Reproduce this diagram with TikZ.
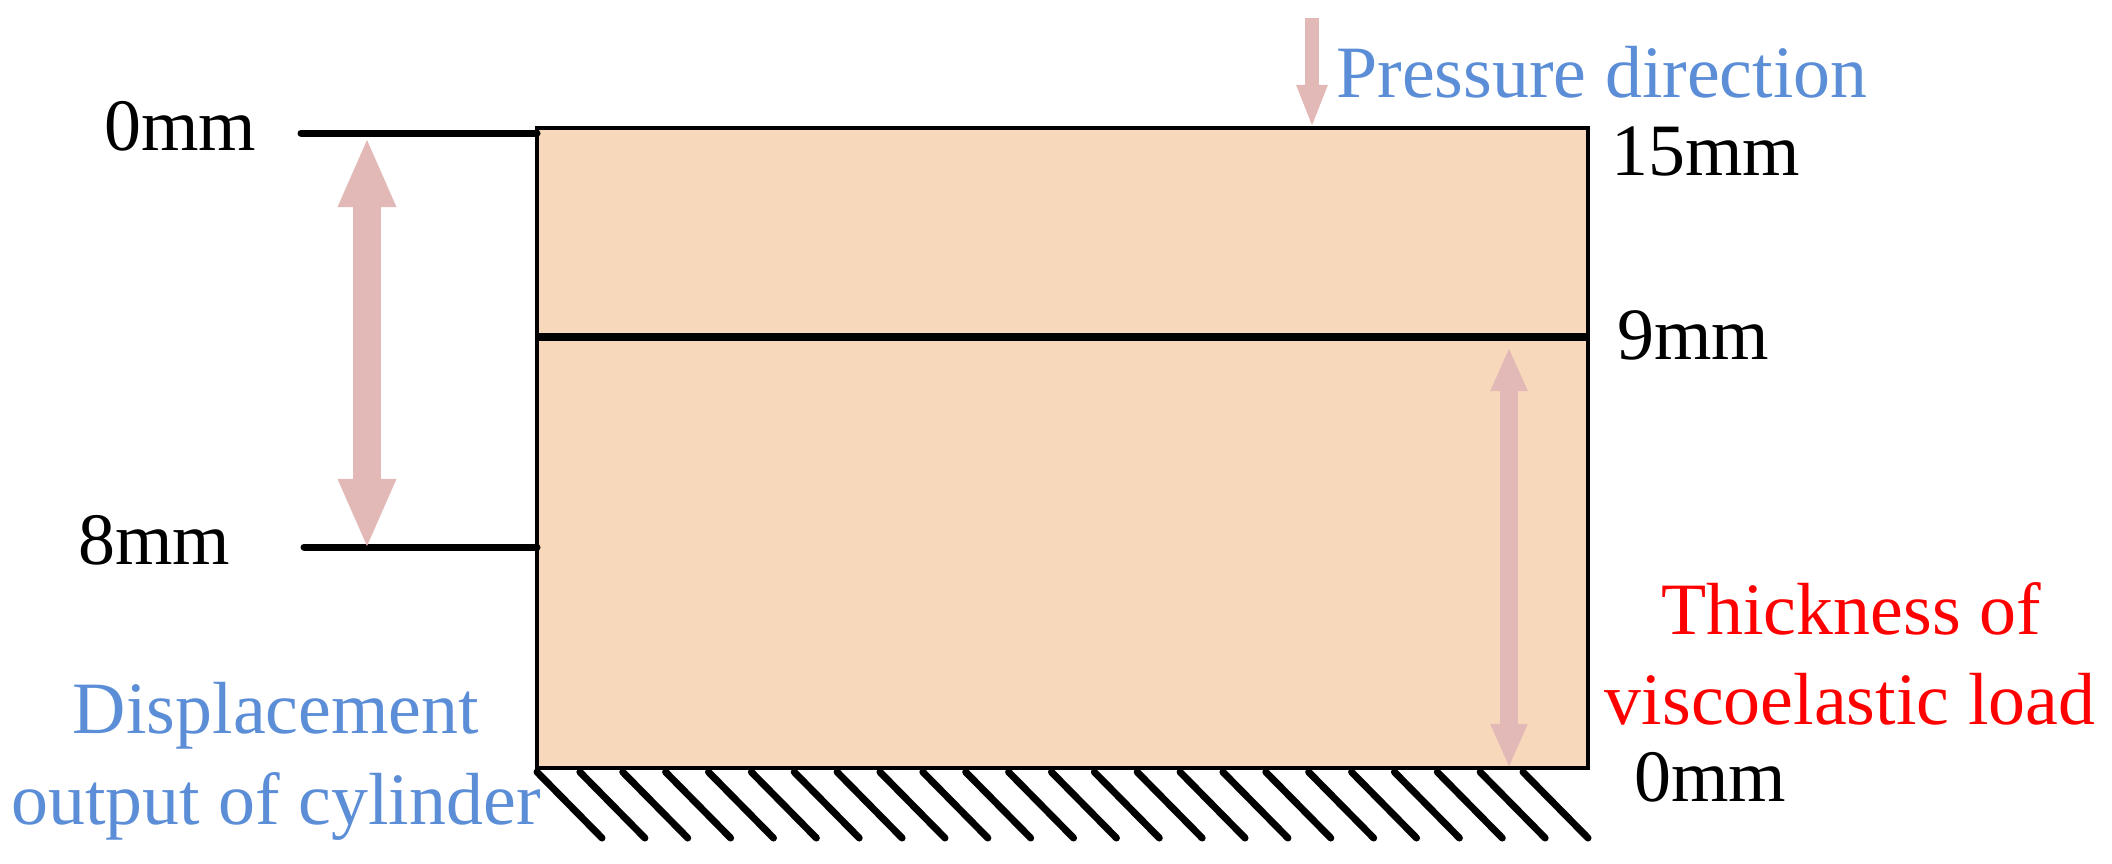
\documentclass[tikz,border=0pt]{standalone}
\usepackage{fontspec}
\setmainfont{Liberation Serif}
\usetikzlibrary{arrows.meta}

\tikzset{
  lbl/.style={inner sep=0pt, anchor=base, font=\fontsize{21}{25}\selectfont},
  tickline/.style={line width=0.070cm, line cap=round},
  hatchline/.style={line width=0.070cm, line cap=round},
  bigarrow/.style={draw=r227g185b183, line width=0.27cm,
    {Triangle[length=0.70cm,width=0.53cm]}-{Triangle[length=0.70cm,width=0.53cm]}},
  thinarrow/.style={draw=r227g185b183, line width=0.18cm,
    {Triangle[length=0.44cm,width=0.34cm]}-{Triangle[length=0.44cm,width=0.34cm]}},
  pressarrow/.style={draw=r227g185b183, line width=0.14cm,
    -{Triangle[length=0.43cm,width=0.28cm]}}
}

\begin{document}
\begin{tikzpicture}[x=0.01cm,y=-0.01cm]
\useasboundingbox (0,0) rectangle (2112,863);

% Changing color 248 216 186
\definecolor{r248g216b186}{rgb}{0.972549,0.847059,0.729412}%
% Changing color 227 185 183
\definecolor{r227g185b183}{rgb}{0.890196,0.725490,0.717647}%
% Changing color 91 142 214
\definecolor{r91g142b214}{rgb}{0.356863,0.556863,0.839216}%

% Marking corners of load
\coordinate (topleft) at (537,128);
\coordinate (botright) at (1588,768);
\coordinate (midleft) at (537,337);
\coordinate (midright) at (1588,337);

% Filling and drawing load
\draw [fill=r248g216b186, line width=0.035cm] (topleft) rectangle (botright);%

% Drawing segment 9mm
\draw [line width=0.075cm] (midleft) -- (midright);%

% Drawing ticks 0mm and 8mm
\coordinate (tickAa) at (301,133);
\coordinate (tickAb) at (537,133);
\coordinate (tickBa) at (304,547);
\coordinate (tickBb) at (537,547);
\draw [tickline] (tickAa) -- (tickAb);%
\draw [tickline] (tickBa) -- (tickBb);%

% Drawing displacement arrow
\coordinate (dispTop) at (367,137);
\coordinate (dispBot) at (367,549);
\draw [bigarrow] (dispTop) -- (dispBot);%

% Drawing thickness arrow
\coordinate (thickTop) at (1509,347);
\coordinate (thickBot) at (1509,768);
\draw [thinarrow] (thickTop) -- (thickBot);%

% Drawing pressure arrow
\coordinate (pressTop) at (1312,18);
\coordinate (pressBot) at (1312,128);
\draw [pressarrow] (pressTop) -- (pressBot);%

% Drawing ground hatching
\foreach \i in {0,...,23}
  \draw [hatchline] ({537+42.87*\i},772) -- ++(65,66);%

% Marking labels
\node [lbl] (leftZero) at (180,150) {0mm};%
\node [lbl] (leftEight) at (154,564) {8mm};%
\node [lbl] (rightFifteen) at (1706,175) {15mm};%
\node [lbl] (rightNine) at (1693,359) {9mm};%
\node [lbl] (rightZero) at (1710,801) {0mm};%
\node [lbl, text=r91g142b214] (pressure) at (1602,97) {Pressure direction};%
\node [lbl, text=red] (thickA) at (1851,634) {Thickness of};%
\node [lbl, text=red] (thickB) at (1850,724) {viscoelastic load};%
\node [lbl, text=r91g142b214] (dispA) at (276,733) {Displacement};%
\node [lbl, text=r91g142b214] (dispB) at (276,824) {output of cylinder};%
\end{tikzpicture}
\end{document}
